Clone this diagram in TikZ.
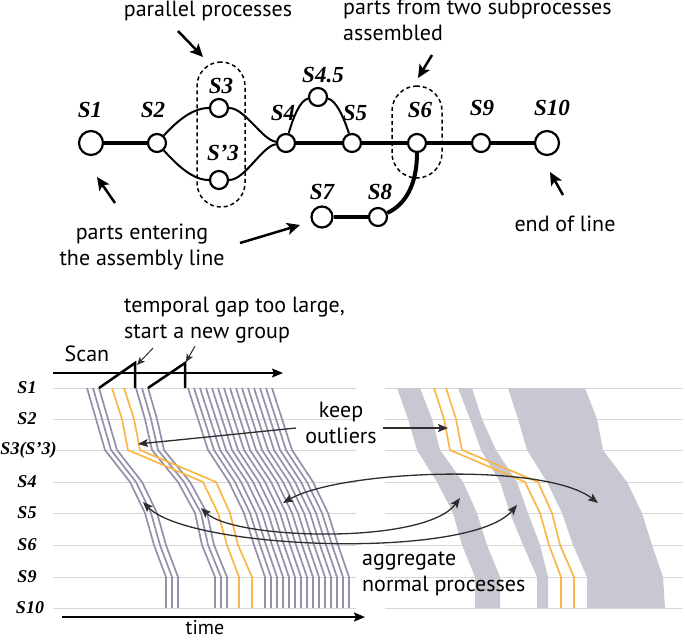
\documentclass[tikz,border=0pt]{standalone}
\usepackage{fontspec}
\setmainfont{PT Sans}
\newfontfamily\labfont{Liberation Serif}
\usetikzlibrary{arrows.meta}
\definecolor{trajgray}{RGB}{145,145,170}
\definecolor{rowgray}{RGB}{215,215,215}
\definecolor{outl}{RGB}{250,182,72}
\definecolor{bandgray}{RGB}{200,200,210}
\definecolor{arrgray}{RGB}{45,45,45}
\newcommand\trajline[9]{\draw (#2+#1,388) -- (#3+#1,419) -- (#4+#1,450) -- (#5+#1,482) -- (#6+#1,513) -- (#7+#1,545) -- (#8+#1,577) -- (#9+#1,608);}
\begin{document}
\begin{tikzpicture}[x=1pt,y=-1pt,
  stn/.style={circle,draw,line width=2.2pt,fill=white,minimum size=18pt,inner sep=0pt},
  stnbig/.style={stn,minimum size=24pt},
  slab/.style={font=\labfont\bfseries\itshape\fontsize{23}{23}\selectfont,inner sep=0pt},
  rowlab/.style={font=\labfont\bfseries\itshape\fontsize{18}{18}\selectfont,inner sep=0pt},
  mainline/.style={line width=4pt},
  branch/.style={line width=2pt},
  grpbox/.style={draw,line width=1.5pt,dash pattern=on 4pt off 3pt,inner sep=0pt},
  note/.style={font=\fontsize{22}{26}\selectfont,inner sep=0pt},
  callout/.style={line width=2.5pt,-{Stealth[length=13pt,width=12pt,inset=3pt]}},
  rowline/.style={draw=rowgray,line width=1pt},
  trajs/.style={draw=trajgray,line width=1.7pt},
  outlier/.style={draw=outl,line width=1.7pt},
  thinarrow/.style={draw=arrgray,line width=1pt,-{Stealth[length=8pt,width=7pt,inset=2pt]}},
  twoway/.style={draw=arrgray,line width=1.3pt,{Stealth[length=10pt,width=8pt,inset=2pt]}-{Stealth[length=10pt,width=8pt,inset=2pt]}},
  axisarrow/.style={line width=1.5pt,-{Stealth[length=11pt,width=9pt,inset=2pt]}},
  saw/.style={line width=2.5pt}
]
\useasboundingbox (0,0) rectangle (685,641);

% ---------------- top: assembly line graph ----------------
\node[grpbox,minimum width=48pt,minimum height=145pt,rounded corners=24pt] (par) at (221,134.5) {};
\node[grpbox,minimum width=50pt,minimum height=92pt,rounded corners=25pt] (asm) at (417,132) {};

\node[stnbig] (s1) at (91,143) {};
\node[stn] (s2) at (157,143) {};
\node[stn] (s3) at (219,108) {};
\node[stn] (s3p) at (219,180) {};
\node[stn] (s4) at (286,143) {};
\node[stn] (s45) at (318,97) {};
\node[stn] (s5) at (352,143) {};
\node[stn] (s6) at (417,143) {};
\node[stn] (s9) at (481,143) {};
\node[stnbig] (s10) at (547,143) {};
\node[stn,minimum size=21pt] (s7) at (322,217) {};
\node[stn] (s8) at (378,217) {};

\draw[mainline] (s1) -- (s2);
\draw[mainline] (s4) -- (s5);
\draw[mainline] (s5) -- (s6);
\draw[mainline] (s6) -- (s9);
\draw[mainline] (s9) -- (s10);
\draw[mainline] (s7) -- (s8);
\draw[mainline] (s8) .. controls (405,205) and (417,185) .. (s6);
\draw[branch] (s2) .. controls (178,120) and (193,108) .. (s3);
\draw[branch] (s3) .. controls (245,108) and (262,140) .. (s4);
\draw[branch] (s2) .. controls (178,166) and (193,180) .. (s3p);
\draw[branch] (s3p) .. controls (245,180) and (262,146) .. (s4);
\draw[branch] (s4) .. controls (293,118) and (300,100) .. (s45);
\draw[branch] (s45) .. controls (336,100) and (344,118) .. (s5);

\node[slab] (l1) at (90,110) {S1};
\node[slab] (l2) at (153,110) {S2};
\node[slab] (l3) at (221,86) {S3};
\node[slab] (l3p) at (223,153) {S’3};
\node[slab] (l4) at (283,113) {S4};
\node[slab] (l45) at (323,75) {S4.5};
\node[slab] (l5) at (355,113) {S5};
\node[slab] (l6) at (420,110) {S6};
\node[slab] (l9) at (482,108) {S9};
\node[slab] (l10) at (552,108) {S10};
\node[slab] (l7) at (322,192) {S7};
\node[slab] (l8) at (380,192) {S8};

\node[note,anchor=north] (tpar) at (208,1) {parallel processes};
\node[note,anchor=north west,align=left] (tasm) at (343,-1) {parts from two subprocesses\\assembled};
\node[note,anchor=north,align=center] (tent) at (142,224) {parts entering\\the assembly line};
\node[note,anchor=north] (tend) at (565,216) {end of line};

\coordinate (apar) at (178,31);
\coordinate (apart) at (203,57);
\coordinate (aasm) at (432,55);
\coordinate (aasmt) at (418,78);
\coordinate (aend) at (563,195);
\coordinate (aendt) at (550,172);
\coordinate (aent) at (115,203);
\coordinate (aentt) at (97,177);
\coordinate (aent2) at (240,243);
\coordinate (aent2t) at (300,225);
\draw[callout] (apar) -- (apart);
\draw[callout] (aasm) -- (aasmt);
\draw[callout] (aend) -- (aendt);
\draw[callout] (aent) -- (aentt);
\draw[callout] (aent2) -- (aent2t);

% ---------------- bottom: trajectories ----------------
\foreach \y in {388,419,450,482,513,545,577,608} {
  \draw[rowline] (53,\y) -- (356,\y);
  \draw[rowline] (385,\y) -- (683,\y);
}

\node[rowlab] (r1) at (27,388) {S1};
\node[rowlab] (r2) at (27,419) {S2};
\node[rowlab] (r3) at (28.5,450) {S3(S’3)};
\node[rowlab] (r4) at (27,482) {S4};
\node[rowlab] (r5) at (27,513) {S5};
\node[rowlab] (r6) at (27,545) {S6};
\node[rowlab] (r9) at (27,577) {S9};
\node[rowlab] (r10) at (30,608) {S10};

\begin{scope}[trajs]
  \foreach \i in {0,1,2} {\trajline{\i*6}{87}{96}{105}{130}{145}{154}{166}{166}}
  \foreach \i in {0,1,2} {\trajline{\i*6}{136}{145}{152}{178}{195}{202}{215}{215}}
  \foreach \i in {0,...,14} {\trajline{\i*6}{188}{198}{208}{229}{244}{254}{265}{265}}
\end{scope}
\begin{scope}[outlier]
  \trajline{0}{112}{122}{128}{203}{218}{227}{239}{239}
  \trajline{0}{124}{134}{140}{216}{230}{238}{252}{252}
\end{scope}

% right panel: aggregated bands
\fill[bandgray] (397,388) -- (408,419) -- (417,450) -- (437,482) -- (453,513) -- (462,545) -- (475,577) -- (475,608)
  -- (500,608) -- (500,577) -- (487,545) -- (477,513) -- (463,482) -- (440,450) -- (432,419) -- (420,388) -- cycle;
\fill[bandgray] (458,388) -- (470,419) -- (481,450) -- (500,482) -- (510,513) -- (523,545) -- (537,577) -- (537,608)
  -- (548,608) -- (548,577) -- (540,545) -- (528,513) -- (517,482) -- (496,450) -- (482,419) -- (472,388) -- cycle;
\fill[bandgray] (508,388) -- (518,419) -- (527,450) -- (547,482) -- (562,513) -- (573,545) -- (587,577) -- (587,608)
  -- (665,608) -- (663,577) -- (652,545) -- (642,513) -- (627,482) -- (603,450) -- (597,419) -- (585,388) -- cycle;
\begin{scope}[outlier]
  \trajline{322}{112}{122}{128}{203}{218}{227}{239}{239}
  \trajline{322}{124}{134}{140}{216}{230}{238}{252}{252}
\end{scope}

% scan axis and sawtooth
\coordinate (scanA) at (53,373);
\coordinate (scanB) at (283,373);
\draw[axisarrow] (scanA) -- (scanB);
\draw[saw] (99,388) -- (135,363) -- (135,388);
\draw[saw] (148,388) -- (185,363) -- (185,388);
\node[note,anchor=north] (tscan) at (87,346) {Scan};
\node[note,anchor=north west,align=left] (tgap) at (124,297) {temporal gap too large,\\start a new group};
\coordinate (g1s) at (153,348);
\coordinate (g1t) at (137,365);
\coordinate (g2s) at (195,346);
\coordinate (g2t) at (186,362);
\draw[thinarrow] (g1s) -- (g1t);
\draw[thinarrow] (g2s) -- (g2t);

% time axis
\coordinate (timeA) at (62,617);
\coordinate (timeB) at (365,617);
\draw[axisarrow,line width=2pt] (timeA) -- (timeB);
\node[note,anchor=base,font=\fontsize{20}{22}\selectfont] (ttime) at (205,634) {time};

% keep outliers
\node[note,anchor=north,align=center] (tkeep) at (341,402) {keep\\outliers};
\coordinate (k1s) at (296,428);
\coordinate (k1t) at (138,444);
\coordinate (k2s) at (383,428);
\coordinate (k2t) at (448,428);
\draw[thinarrow,line width=1.3pt,-{Stealth[length=10pt,width=8pt,inset=2pt]}] (k1s) -- (k1t);
\draw[thinarrow,line width=1.3pt,-{Stealth[length=10pt,width=8pt,inset=2pt]}] (k2s) -- (k2t);

% aggregate arrows
\coordinate (cA1) at (143,502);
\coordinate (cA2) at (517,505);
\coordinate (cB1) at (201,508);
\coordinate (cB2) at (460,498);
\coordinate (cC1) at (283,503);
\coordinate (cC2) at (598,503);
\draw[twoway] (cA1) .. controls (190,550) and (470,560) .. (cA2);
\draw[twoway] (cB1) .. controls (235,540) and (425,545) .. (cB2);
\draw[twoway] (cC1) .. controls (340,470) and (545,462) .. (cC2);
\node[note,anchor=north west,align=left] (tagg) at (362,552) {aggregate\\normal processes};
\end{tikzpicture}
\end{document}
